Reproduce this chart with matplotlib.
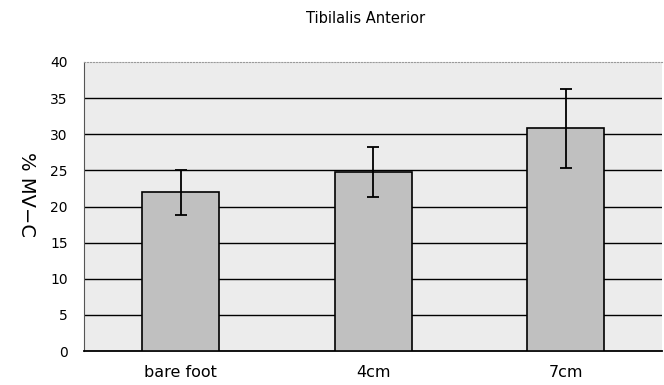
import matplotlib.pyplot as plt
import numpy as np

# data
categories = ['bare foot', '4cm', '7cm']
values = [22.0, 24.8, 30.8]
errors = [3.1, 3.5, 5.4]
yticks = [0, 5, 10, 15, 20, 25, 30, 35, 40]

plt.rcParams['font.family'] = ['DejaVu Sans']

fig = plt.figure(figsize=(6.64, 3.85), dpi=100)
ax = fig.add_axes([0.127, 0.088, 0.87, 0.751])
ax.set_facecolor('#ececec')

x = np.arange(len(categories))
ax.bar(x, values, width=0.4, color='#c0c0c0', edgecolor='black', linewidth=1.2, zorder=3)
ax.errorbar(x, values, yerr=errors, fmt='none', ecolor='black', elinewidth=1.3,
            capsize=4, capthick=1.3, zorder=4)

# horizontal grid lines
for y in yticks[1:-1]:
    ax.axhline(y, color='black', linewidth=1.0, zorder=1)

ax.set_xlim(-0.5, 2.5)
ax.set_ylim(0, 40)
ax.set_yticks(yticks)
ax.set_xticks(x)
ax.set_xticklabels(categories, fontsize=11.5)
ax.tick_params(axis='y', length=0, pad=12, labelsize=10)
ax.tick_params(axis='x', length=0, pad=10)

ax.spines['right'].set_visible(False)
ax.spines['top'].set_color('#9a9a9a')
ax.spines['top'].set_linestyle(':')
ax.spines['left'].set_color('#555555')
ax.spines['bottom'].set_color('black')
ax.spines['bottom'].set_linewidth(1.3)

fig.text(0.04, 0.494, '% MV\u2212C', rotation=270, ha='center', va='center', fontsize=14)
fig.text(0.55, 0.953, 'Tibilalis Anterior', ha='center', va='center', fontsize=10.5)

fig.savefig('out.png', dpi=100)
